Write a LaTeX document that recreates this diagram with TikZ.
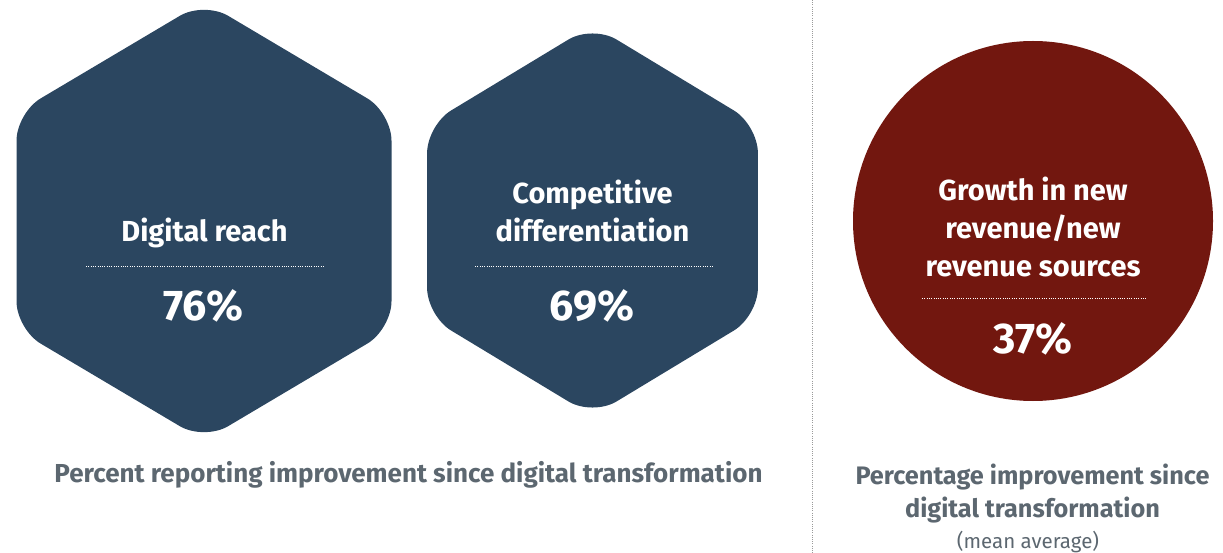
\documentclass[tikz,border=0pt]{standalone}
\usepackage{fontspec}
\setmainfont{Fira Sans}
\definecolor{navy}{HTML}{2B4660}
\definecolor{wine}{HTML}{72170F}
\definecolor{capgray}{HTML}{5C6770}
\definecolor{rulegray}{HTML}{9A9A9A}
\begin{document}
\begin{tikzpicture}[x=1pt,y=-1pt,
  hexfill/.style={fill=navy, rounded corners=28pt},
  title/.style={text=white, font=\bfseries\fontsize{29}{38}\selectfont, anchor=base, inner sep=0pt},
  value/.style={text=white, font=\bfseries\fontsize{43}{48}\selectfont, anchor=base, inner sep=0pt},
  sepline/.style={white, line width=0.9pt, dash pattern=on 1pt off 1.3pt},
  caption/.style={text=capgray, font=\bfseries\fontsize{26}{33}\selectfont, anchor=base, inner sep=0pt},
  rcaption/.style={caption, font=\bfseries\fontsize{25.3}{33}\selectfont},
  subcaption/.style={text=capgray, font=\fontsize{20.5}{26}\selectfont, anchor=base, inner sep=0pt}]
\useasboundingbox (0,0) rectangle (1223,553);
% divider
\draw[rulegray, line width=0.8pt, dash pattern=on 1pt off 1.2pt] (812,0) -- (812,553);
% hexagon 1
\fill[hexfill] (204,1.5) -- (391.5,112.75) -- (391.5,329.25) -- (204,440.5) -- (16.5,329.25) -- (16.5,112.75) -- cycle;
% hexagon 2
\fill[hexfill] (592.5,25) -- (757.9,125) -- (757.9,316) -- (592.5,416) -- (427.1,316) -- (427.1,125) -- cycle;
% circle
\fill[wine] (1033,221) circle[radius=180];
% hexagon 1 text
\node[title] (t1) at (204.5,242) {Digital reach};
\draw[sepline] (86,266) -- (323,266);
\node[value] (v1) at (203.5,320) {76\%};
% hexagon 2 text
\node[title] (t2a) at (592.5,204) {Competitive};
\node[title] (t2b) at (592.5,242) {differentiation};
\draw[sepline] (475,266) -- (712,266);
\node[value] (v2) at (592,320) {69\%};
% circle text
\node[title] (t3a) at (1033,200.5) {Growth in new};
\node[title] (t3b) at (1033,238.5) {revenue/new};
\node[title] (t3c) at (1033,276.5) {revenue sources};
\draw[sepline] (922,298) -- (1147,298);
\node[value] (v3) at (1033,353) {37\%};
% captions
\node[caption] (c1) at (408.5,482) {Percent reporting improvement since digital transformation};
\node[rcaption] (c2a) at (1032.5,484) {Percentage improvement since};
\node[rcaption] (c2b) at (1032.5,517) {digital transformation};
\node[subcaption] (c2c) at (1028,548) {(mean average)};
\end{tikzpicture}
\end{document}
